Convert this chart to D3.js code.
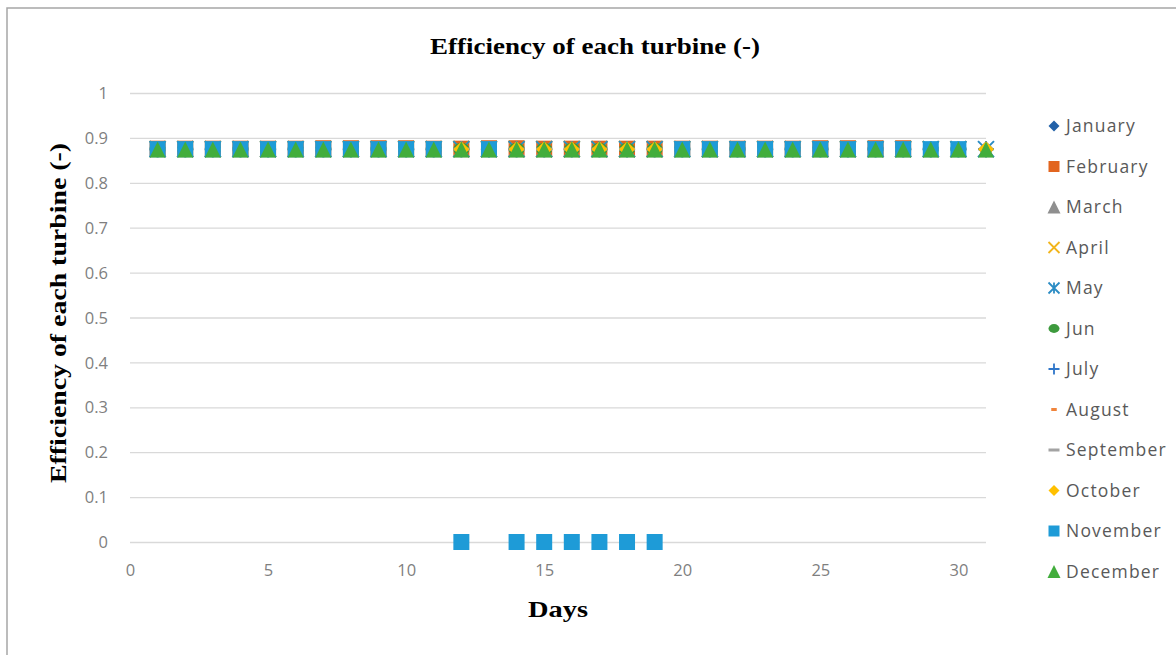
<!DOCTYPE html>
<html>
<head>
<meta charset="utf-8">
<script src="https://cdn.jsdelivr.net/npm/d3@7"></script>
<style>
  html, body { margin: 0; padding: 0; background: #ffffff; }
  svg { display: block; }
</style>
</head>
<body>
<svg id="chart" width="1176" height="655"></svg>
<script>
// ---------- data ----------
const months = ["January","February","March","April","May","Jun","July","August","September","October","November","December"];
const monthColors = ["#2261a8","#e2651f","#8f8f8f","#f2b51c","#2b8cc4","#3d9a3d","#2f76c9","#f0843c","#a3a3a3","#ffc000","#1e9bd7","#42ad3c"];
const monthShapes = ["diamond","square","triangle","x","star","circle","plus","dashShort","dashLong","diamond","square","triangle"];

const jan = [0.875,0.875,0.875,0.875,0.875,0.875,0.875,0.875,0.875,0.875,0.875,0.875,0.875,0.875,0.875,0.875,0.875,0.875,0.875,0.875,0.875,0.875,0.875,0.875,0.875,0.875,0.875,0.875,0.875,0.875,0.875];
const feb = [0.876,0.876,0.876,0.876,0.876,0.876,0.877,0.877,0.877,0.877,0.876,0.876,0.877,0.877,0.876,0.876,0.876,0.876,0.876,0.876,0.876,0.876,0.876,0.876,0.877,0.877,0.877,0.877];
const mar = [0.875,0.875,0.875,0.875,0.875,0.875,0.875,0.875,0.875,0.875,0.875,0.875,0.875,0.875,0.875,0.875,0.875,0.875,0.875,0.875,0.875,0.875,0.875,0.875,0.875,0.875,0.875,0.875,0.875,0.875,0.875];
const apr = [0.875,0.875,0.875,0.875,0.875,0.875,0.875,0.875,0.875,0.875,0.875,0.875,0.875,0.875,0.875,0.875,0.875,0.875,0.875,0.875,0.875,0.875,0.875,0.875,0.875,0.875,0.875,0.875,0.875,0.875];
const may = [0.875,0.875,0.875,0.875,0.875,0.875,0.875,0.875,0.875,0.875,0.875,0.875,0.875,0.875,0.875,0.875,0.875,0.875,0.875,0.875,0.875,0.875,0.875,0.875,0.875,0.875,0.875,0.875,0.875,0.875,0.875];
const jun = [0.875,0.875,0.875,0.875,0.875,0.875,0.875,0.875,0.875,0.875,0.875,0.875,0.875,0.875,0.875,0.875,0.875,0.875,0.875,0.875,0.875,0.875,0.875,0.875,0.875,0.875,0.875,0.875,0.875,0.875];
const jul = [0.875,0.875,0.875,0.875,0.875,0.875,0.875,0.875,0.875,0.875,0.875,0.875,0.875,0.875,0.875,0.875,0.875,0.875,0.875,0.875,0.875,0.875,0.875,0.875,0.875,0.875,0.875,0.875,0.875,0.875,0.875];
const aug = [0.875,0.875,0.875,0.875,0.875,0.875,0.875,0.875,0.875,0.875,0.875,0.875,0.875,0.875,0.875,0.875,0.875,0.875,0.875,0.875,0.875,0.875,0.875,0.875,0.875,0.875,0.875,0.875,0.875,0.875,0.875];
const sep = [0.875,0.875,0.875,0.875,0.875,0.875,0.875,0.875,0.875,0.875,0.875,0.875,0.875,0.875,0.875,0.875,0.875,0.875,0.875,0.875,0.875,0.875,0.875,0.875,0.875,0.875,0.875,0.875,0.875,0.875];
const oct = [0.875,0.875,0.875,0.875,0.875,0.875,0.875,0.875,0.875,0.875,0.875,0.875,0.875,0.875,0.875,0.875,0.875,0.875,0.875,0.875,0.875,0.875,0.875,0.875,0.875,0.875,0.875,0.875,0.875,0.875,0.875];
const nov = [0.875,0.875,0.875,0.875,0.875,0.875,0.875,0.875,0.875,0.875,0.875,0,0.875,0,0,0,0,0,0,0.875,0.875,0.875,0.875,0.875,0.875,0.875,0.875,0.875,0.875,0.875];
const dec = [0.874,0.874,0.874,0.874,0.874,0.874,0.874,0.874,0.874,0.874,0.874,0.874,0.874,0.874,0.874,0.874,0.874,0.874,0.874,0.874,0.874,0.874,0.874,0.874,0.874,0.874,0.874,0.874,0.874,0.874,0.874];
const seriesValues = [jan,feb,mar,apr,may,jun,jul,aug,sep,oct,nov,dec];

const xTicks = [0,5,10,15,20,25,30];
const yTicks = [0,0.1,0.2,0.3,0.4,0.5,0.6,0.7,0.8,0.9,1];
const titleText = "Efficiency of each turbine (-)";
const xTitle = "Days";
const yTitle = "Efficiency of each turbine (-)";

// ---------- layout ----------
const svg = d3.select("#chart");
const W = 1176, H = 655;
const plot = {left: 130, right: 986, top: 93, bottom: 542};

// outer border
svg.append("rect").attr("x", 7).attr("y", 8).attr("width", W + 10).attr("height", H + 10)
  .attr("fill", "#fff").attr("stroke", "#a6a6a6").attr("stroke-width", 1.5);

const x = d3.scaleLinear().domain([0, 31]).range([plot.left, plot.right]);
const y = d3.scaleLinear().domain([0, 1]).range([plot.bottom, plot.top]);

// gridlines
const yAxis = d3.axisLeft(y).tickValues(yTicks).tickSize(-(plot.right - plot.left)).tickPadding(22)
  .tickFormat(d => d3.format("~g")(d));
const gy = svg.append("g").attr("transform", `translate(${plot.left},0)`).call(yAxis);
gy.select(".domain").remove();
gy.selectAll(".tick line").attr("stroke", "#d9d9d9").attr("stroke-width", 1.3);
gy.selectAll(".tick text").attr("fill", "#7f7f7f").attr("font-family", "'Open Sans', sans-serif")
  .attr("font-size", 16.5).attr("dy", "0.34em");

const xAxis = d3.axisBottom(x).tickValues(xTicks).tickSize(0).tickPadding(22).tickFormat(d3.format("d"));
const gx = svg.append("g").attr("transform", `translate(0,${plot.bottom})`).call(xAxis);
gx.select(".domain").remove();
gx.selectAll(".tick text").attr("fill", "#7f7f7f").attr("font-family", "'Open Sans', sans-serif")
  .attr("font-size", 16.5);

// ---------- markers ----------
function shapePath(shape, s) {
  const h = s / 2;
  switch (shape) {
    case "diamond": return `M0,${-h}L${h},0L0,${h}L${-h},0Z`;
    case "square": return `M${-h},${-h}H${h}V${h}H${-h}Z`;
    case "triangle": return `M0,${-h}L${h},${h}L${-h},${h}Z`;
    case "circle": return `M${-h},0A${h},${h*0.8} 0 1,0 ${h},0A${h},${h*0.8} 0 1,0 ${-h},0Z`;
    case "x": return `M${-h},${-h}L${h},${h}M${h},${-h}L${-h},${h}`;
    case "star": return `M${-h},${-h}L${h},${h}M${h},${-h}L${-h},${h}M0,${-h}V${h}`;
    case "plus": return `M${-h},0H${h}M0,${-h}V${h}`;
    case "dashShort": return `M${-h*0.5},-1.5H${h*0.5}V1.5H${-h*0.5}Z`;
    case "dashLong": return `M${-h},-1.5H${h}V1.5H${-h}Z`;
  }
}
const stroked = new Set(["x","star","plus"]);

function styleMarker(sel, i) {
  const sh = monthShapes[i];
  if (stroked.has(sh)) sel.attr("fill", "none").attr("stroke", monthColors[i]).attr("stroke-width", 2);
  else sel.attr("fill", monthColors[i]).attr("stroke", "none");
}

const marks = svg.append("g");
seriesValues.forEach((vals, i) => {
  const g = marks.append("g");
  g.selectAll("path").data(vals.map((v, k) => ({day: k + 1, v})))
    .join("path")
    .attr("transform", d => `translate(${x(d.day)},${y(d.v)})`)
    .attr("d", shapePath(monthShapes[i], 16))
    .call(styleMarker, i);
});

// ---------- titles ----------
const serif = "'Liberation Serif', serif";
svg.append("text").attr("x", 595).attr("y", 54).attr("text-anchor", "middle")
  .attr("font-family", serif).attr("font-weight", "bold").attr("font-size", 23)
  .attr("textLength", 330).attr("lengthAdjust", "spacingAndGlyphs")
  .attr("fill", "#000").text(titleText);
svg.append("text").attr("x", 558).attr("y", 617).attr("text-anchor", "middle")
  .attr("font-family", serif).attr("font-weight", "bold").attr("font-size", 23)
  .attr("textLength", 60).attr("lengthAdjust", "spacingAndGlyphs")
  .attr("fill", "#000").text(xTitle);
svg.append("text").attr("transform", "translate(66,313) rotate(-90)").attr("text-anchor", "middle")
  .attr("font-family", serif).attr("font-weight", "bold").attr("font-size", 23)
  .attr("textLength", 340).attr("lengthAdjust", "spacingAndGlyphs")
  .attr("fill", "#000").text(yTitle);

// ---------- legend ----------
const legend = svg.append("g");
months.forEach((m, i) => {
  const cy = 126 + i * 40.5;
  const p = legend.append("path").attr("transform", `translate(1054,${cy})`)
    .attr("d", shapePath(monthShapes[i], monthShapes[i] === "triangle" ? 13 : 11));
  styleMarker(p, i);
  if (stroked.has(monthShapes[i])) p.attr("stroke-width", 1.8);
  legend.append("text").attr("x", 1066).attr("y", cy).attr("dy", "0.35em")
    .attr("font-family", "'Open Sans', sans-serif").attr("font-size", 17.5)
    .attr("letter-spacing", 1.2).attr("fill", "#595959").text(m);
});
</script>
</body>
</html>
